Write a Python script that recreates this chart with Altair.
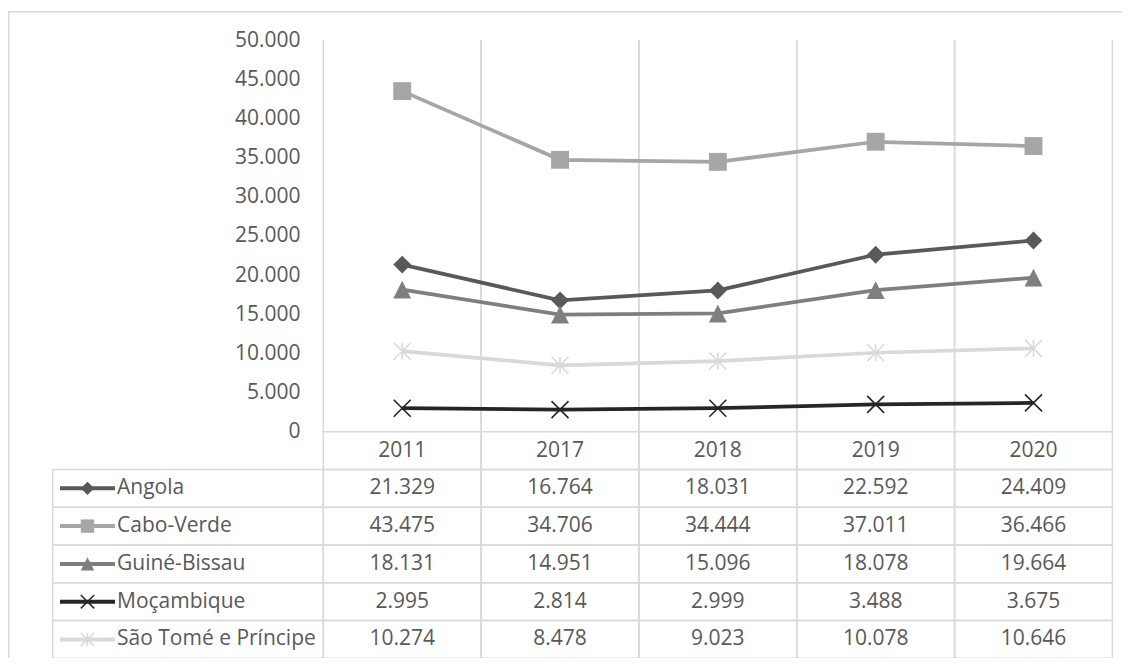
import altair as alt
import pandas as pd

years = ["2011", "2017", "2018", "2019", "2020"]
series = ["Angola", "Cabo-Verde", "Guiné-Bissau", "Moçambique", "São Tomé e Príncipe"]
angola = [21329, 16764, 18031, 22592, 24409]
cabo_verde = [43475, 34706, 34444, 37011, 36466]
guine_bissau = [18131, 14951, 15096, 18078, 19664]
mocambique = [2995, 2814, 2999, 3488, 3675]
sao_tome = [10274, 8478, 9023, 10078, 10646]
y_ticks = [0, 5000, 10000, 15000, 20000, 25000, 30000, 35000, 40000, 45000, 50000]

colors = ["#595959", "#a6a6a6", "#7f7f7f", "#262626", "#d9d9d9"]
shapes = ["diamond", "square", "M0,-1L1,1L-1,1Z",
          "M-1,-1L1,1M1,-1L-1,1", "M-1,-1L1,1M1,-1L-1,1M0,-1L0,1"]
filled_series = series[:3]
stroked_series = series[3:]

HEADER = "_header"
row_domain = [HEADER] + series

values = [angola, cabo_verde, guine_bissau, mocambique, sao_tome]
rows = []
for s, vals in zip(series, values):
    for y, v in zip(years, vals):
        rows.append({"series": s, "row": s, "year": y, "value": v})
df = pd.DataFrame(rows)

cells = pd.DataFrame([{"row": r, "year": y} for r in row_domain for y in years])
legend_df = pd.DataFrame({"series": series, "row": series})
header_df = pd.DataFrame({"year": years, "row": [HEADER] * len(years)})
year_df = pd.DataFrame({"year": years})
one = pd.DataFrame({"k": [0]})

FONT = "Open Sans"
FS = 21
TXT = "#595959"
GRID = "#d9d9d9"

xs = alt.Scale(type="band", domain=years, range=[315.3, 1104.4], paddingInner=0, paddingOuter=0)
ys = alt.Scale(domain=[0, 50000], range=[423.7, 32], nice=False, zero=True)
rs = alt.Scale(type="band", domain=row_domain, range=[423.7, 650.3], paddingInner=0, paddingOuter=0)
cs = alt.Scale(domain=series, range=colors)
ss = alt.Scale(domain=series, range=shapes)

fmt = "replace(format(datum.value, ','), ',', '.')"

yaxis = alt.Axis(values=y_ticks, labelExpr=fmt, domain=False, ticks=False, grid=False,
                 labelPadding=0, offset=-292, title=None, labelFont=FONT,
                 labelFontSize=FS, labelColor=TXT)

X = lambda **kw: alt.X("year:O", scale=xs, axis=None, **kw)

grid_start = alt.Chart(year_df).mark_rule(color=GRID, strokeWidth=1.5).encode(
    x=X(bandPosition=0), y=alt.value(32), y2=alt.value(423.7))
grid_end = alt.Chart(year_df).mark_rule(color=GRID, strokeWidth=1.5).encode(
    x=X(bandPosition=1), y=alt.value(32), y2=alt.value(423.7))

base = alt.Chart(df).encode(
    x=X(),
    y=alt.Y("value:Q", scale=ys, axis=yaxis),
    color=alt.Color("series:N", scale=cs, legend=None),
)
lines = base.mark_line(strokeWidth=3.75)
pts_f = base.transform_filter(alt.FieldOneOfPredicate(field="series", oneOf=filled_series)).mark_point(
    filled=True, opacity=1, size=320).encode(shape=alt.Shape("series:N", scale=ss, legend=None))
pts_s = base.transform_filter(alt.FieldOneOfPredicate(field="series", oneOf=stroked_series)).mark_point(
    filled=False, opacity=1, size=290, strokeWidth=1.6).encode(shape=alt.Shape("series:N", scale=ss, legend=None))

layerA = alt.layer(grid_start, grid_end, lines, pts_f, pts_s)

R = lambda: alt.Y("row:N", scale=rs, axis=None)

cell_rects = alt.Chart(cells).mark_rect(fillOpacity=0, stroke=GRID, strokeWidth=1.5).encode(
    x=X(), y=R())
leg_rects = alt.Chart(legend_df).mark_rect(fillOpacity=0, stroke=GRID, strokeWidth=1.5).encode(
    x=alt.value(44.7), x2=alt.value(315.3), y=R())
val_text = alt.Chart(df).transform_calculate(
    label="replace(format(datum.value, ','), ',', '.')"
).mark_text(font=FONT, fontSize=FS, color=TXT, align="center", baseline="middle").encode(
    x=X(), y=R(), text="label:N")
hdr_text = alt.Chart(header_df).mark_text(font=FONT, fontSize=FS, color=TXT, align="center",
                                          baseline="middle").encode(x=X(), y=R(), text="year:N")
name_text = alt.Chart(legend_df).mark_text(font=FONT, fontSize=FS, color=TXT, align="left",
                                           baseline="middle").encode(
    x=alt.value(109), y=R(), text="series:N")
leg_base = alt.Chart(legend_df).encode(y=R(), color=alt.Color("series:N", scale=cs, legend=None))
leg_lines = leg_base.mark_rule(strokeWidth=4).encode(x=alt.value(52), x2=alt.value(107))
leg_pf = leg_base.transform_filter(alt.FieldOneOfPredicate(field="series", oneOf=filled_series)).mark_point(
    filled=True, opacity=1, size=180).encode(x=alt.value(79.5), shape=alt.Shape("series:N", scale=ss, legend=None))
leg_ps = leg_base.transform_filter(alt.FieldOneOfPredicate(field="series", oneOf=stroked_series)).mark_point(
    filled=False, opacity=1, size=180, strokeWidth=1.5).encode(x=alt.value(79.5), shape=alt.Shape("series:N", scale=ss, legend=None))

border_top = alt.Chart(one).mark_rule(color=GRID, strokeWidth=1.5).encode(
    x=alt.value(0), x2=alt.value(1114), y=alt.value(3.7))
border_left = alt.Chart(one).mark_rule(color=GRID, strokeWidth=1.5).encode(
    x=alt.value(0.75), y=alt.value(3.7), y2=alt.value(650))

layerB = alt.layer(cell_rects, leg_rects, val_text, hdr_text, name_text, leg_lines, leg_pf, leg_ps,
                   border_top, border_left)

chart = alt.layer(layerA, layerB).resolve_scale(y="independent").properties(
    width=1114, height=650, padding=0, autosize="none"
).configure_view(stroke=None)

chart.save("out.html", embed_options={"renderer": "svg", "actions": False})
